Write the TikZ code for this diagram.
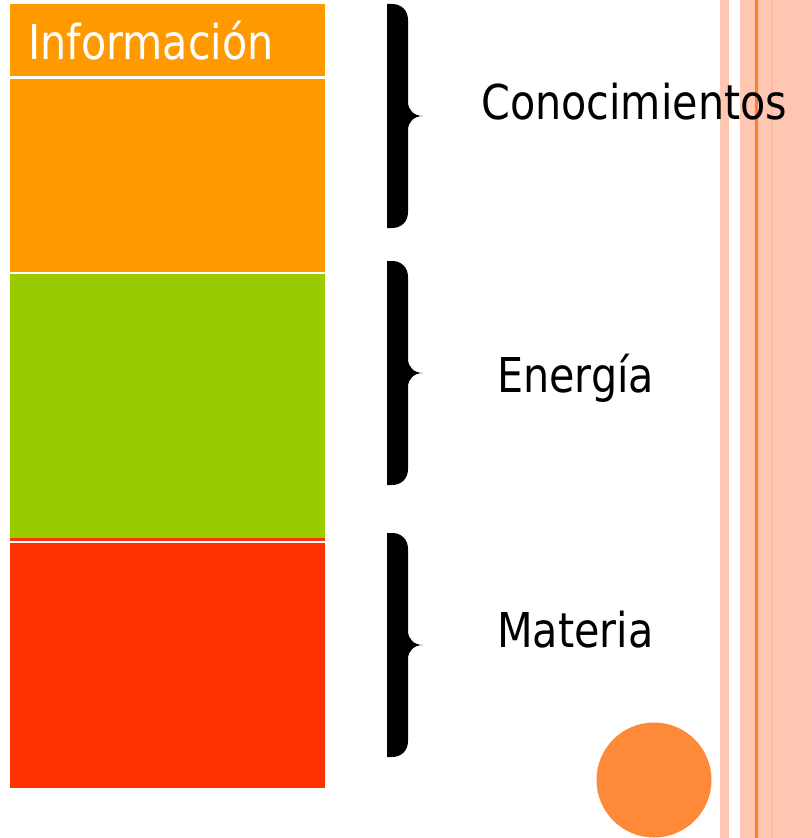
\documentclass[tikz,border=0pt]{standalone}
\usepackage{fontspec}
\setmainfont{DejaVu Sans}[FakeStretch=0.86]
\usepackage{tikz}
\definecolor{naranja}{RGB}{255,153,0}
\definecolor{verde}{RGB}{153,204,0}
\definecolor{rojo}{RGB}{255,51,0}
\definecolor{circulo}{RGB}{253,137,57}
\definecolor{rosa}{RGB}{255,198,178}
\definecolor{linea}{RGB}{252,128,44}
\tikzset{
    texto/.style={anchor = base west, inner sep = 0pt, font = \fontsize{36}{40}\selectfont},
    sep/.style={draw = white, line width = 1.2pt},
    bigbrace/.pic={
        \fill[black] (0,0)--(5,0) .. controls (14,0) and (21,6) .. (21,16)
            --(21,98) .. controls (21,106) and (27,112) .. (36,112)
            .. controls (27,112) and (21,118) .. (21,126)
            --(21,208) .. controls (21,218) and (14,224) .. (5,224)
            --(0,224)--cycle;
    },
}
\begin{document}
\begin{tikzpicture}[x = 0.75pt, y = -0.75pt]
\useasboundingbox (0,0) rectangle (812,838);

%stripes at the right
\fill[rosa] (720,0) rectangle (729,838);
\fill[rosa] (740,0) rectangle (812,838);
\fill[linea] (755,0) rectangle (758,838);
\fill[rosa!85!linea] (771,0) rectangle (773,838);

%blocks
\fill[naranja] (10,4) rectangle (325,271);
\fill[verde] (10,271) rectangle (325,538);
\fill[rojo] (10,538) rectangle (325,788);
\draw[sep, line width = 2pt] (10,77.5)--(325,77.5);
\draw[sep] (10,272.8)--(325,272.8);
\draw[sep] (10,542)--(325,542);
\node[texto, white] (info) at (28,60) {Información};

%braces
\pic at (387,4) {bigbrace};
\pic at (387,261) {bigbrace};
\pic at (387,533) {bigbrace};

%labels
\node[texto] (conoc) at (481,120) {Conocimientos};
\node[texto] (energia) at (497,392) {Energía};
\node[texto] (materia) at (497,647) {Materia};

%circle
\fill[circulo] (654,780) circle (57.5);
\end{tikzpicture}
\end{document}
